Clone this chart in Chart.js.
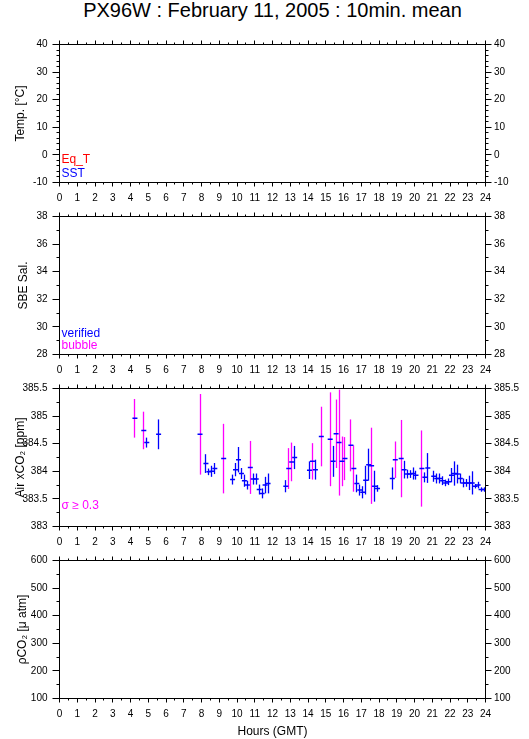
<!DOCTYPE html>
<html><head><meta charset="utf-8">
<script src="https://cdn.jsdelivr.net/npm/chart.js@4.4.1/dist/chart.umd.min.js"></script>
<style>
html,body{margin:0;padding:0;background:#fff;}
body{width:529px;height:739px;position:relative;overflow:hidden;font-family:"Liberation Sans",Arial,Helvetica,sans-serif;}
#title{position:absolute;left:59.5px;width:426px;top:-1px;text-align:center;font-size:20px;line-height:22px;color:#000;white-space:nowrap;}
canvas{position:absolute;left:0;}
</style></head><body>
<div id="title">PX96W : February 11, 2005 : 10min. mean</div>
<canvas id="c1" width="529" height="190" style="top:14px"></canvas>
<canvas id="c2" width="529" height="190" style="top:186px"></canvas>
<canvas id="c3" width="529" height="190" style="top:358px"></canvas>
<canvas id="c4" width="529" height="209" style="top:530px"></canvas>
<script>
// ---------- data ----------
const hourTicks = [0,1,2,3,4,5,6,7,8,9,10,11,12,13,14,15,16,17,18,19,20,21,22,23,24];
const tempTicks = [-10,0,10,20,30,40];
const salTicks = [28,30,32,34,36,38];
const xco2Ticks = [383,383.5,384,384.5,385,385.5];
const pco2Ticks = [100,200,300,400,500,600];

const eqTemp = [];
const sst = [];
const salVerified = [];
const salBubble = [];
const pco2 = [];

const airHours = [4.25,4.75,4.917,5.583,7.917,8.25,8.417,8.583,8.75,9.25,
  9.75,9.917,10.083,10.25,10.417,10.583,10.75,10.917,11.083,11.25,
  11.417,11.583,11.75,12.75,12.917,13.083,13.25,14.083,14.25,14.417,
  14.75,15.25,15.417,15.583,15.75,15.917,16.083,16.417,16.583,16.75,
  16.917,17.083,17.25,17.417,17.583,17.75,17.917,18.75,18.917,19.25,
  19.417,19.583,19.75,19.917,20.083,20.417,20.583,20.75,21.083,21.25,
  21.417,21.583,21.75,21.917,22.083,22.25,22.417,22.583,22.75,22.917,
  23.083,23.25,23.417,23.583,23.75,23.917];
const airXco2 = [384.96,384.74,384.52,384.67,384.67,384.14,383.99,384.00,384.05,384.23,
  383.85,384.03,384.21,383.96,383.83,383.75,384.07,383.86,383.86,383.67,
  383.60,383.75,383.78,383.73,384.05,384.17,384.25,384.02,384.18,384.03,
  384.63,384.58,384.18,384.68,384.52,384.18,384.23,384.47,384.05,383.78,
  383.66,383.62,383.84,384.12,384.10,383.73,383.69,383.87,384.21,384.23,
  384.03,383.95,383.95,383.96,383.93,384.05,383.89,384.06,383.91,383.87,
  383.87,383.83,383.79,383.81,383.93,383.96,383.95,383.87,383.79,383.79,
  383.79,383.79,383.73,383.75,383.67,383.67];
const airSigma = [0.35,0.34,0.09,0.27,0.73,0.17,0.06,0.10,0.10,0.63,
  0.09,0.12,0.23,0.10,0.11,0.08,0.48,0.10,0.10,0.09,
  0.09,0.15,0.18,0.11,0.37,0.35,0.21,0.16,0.33,0.18,
  0.54,0.85,0.28,0.62,0.96,0.45,0.39,0.47,0.42,0.16,
  0.10,0.11,0.26,0.29,0.69,0.28,0.06,0.20,0.33,0.70,
  0.16,0.08,0.07,0.11,0.08,0.69,0.09,0.27,0.10,0.09,
  0.09,0.08,0.06,0.06,0.13,0.22,0.17,0.09,0.08,0.07,
  0.13,0.21,0.04,0.06,0.04,0.04];
const sigmaLimit = 0.3;

// ---------- style ----------
const RED = '#ff0000', BLUE = '#0000ff', MAGENTA = '#ff00ff';
const FONT = "'Liberation Sans', Arial, Helvetica, sans-serif";
Chart.defaults.font.family = FONT;
Chart.defaults.color = '#000';

const PLOT_TOP = 30.5, PLOT_H = 138;

function deco(cfg) {
  return {
    id: 'deco',
    beforeDatasetsDraw(chart) {
      if (!cfg.errors) return;
      const {ctx, scales} = chart;
      const e = cfg.errors;
      ctx.save();
      ctx.lineWidth = 1.3;
      e.x.forEach((h, i) => {
        const px = Math.round(scales.x.getPixelForValue(h) - 0.5) + 0.5;
        const y1 = scales.y.getPixelForValue(e.y[i] - e.s[i]);
        const y2 = scales.y.getPixelForValue(e.y[i] + e.s[i]);
        ctx.strokeStyle = e.s[i] >= e.limit ? MAGENTA : BLUE;
        ctx.beginPath(); ctx.moveTo(px, y1); ctx.lineTo(px, y2); ctx.stroke();
      });
      ctx.restore();
    },
    afterDraw(chart) {
      const {ctx, chartArea: a, scales} = chart;
      ctx.save();
      ctx.strokeStyle = '#000'; ctx.lineWidth = 1;
      ctx.strokeRect(a.left, a.top, a.right - a.left, a.bottom - a.top);
      ctx.beginPath();
      const sx = scales.x;
      for (let k = 0; k <= 48; k++) {
        const h = k / 2;
        const px = Math.round(sx.getPixelForValue(h) - 0.5) + 0.5;
        const len = (k % 2 === 0) ? 4 : 2;
        ctx.moveTo(px, a.bottom); ctx.lineTo(px, a.bottom + len);
        ctx.moveTo(px, a.top); ctx.lineTo(px, a.top - len);
      }
      const sy = scales.y;
      const ticks = cfg.yTicks;
      const lo = ticks[0], hi = ticks[ticks.length - 1];
      const n = Math.round((hi - lo) / cfg.minor);
      for (let k = 0; k <= n; k++) {
        const v = lo + k * cfg.minor;
        const major = ticks.some(t => Math.abs(t - v) < 1e-6);
        const py = Math.round(sy.getPixelForValue(v) - 0.5) + 0.5;
        const ll = major ? 7 : 3, lr = major ? 6 : 3;
        ctx.moveTo(a.left, py); ctx.lineTo(a.left - ll, py);
        ctx.moveTo(a.right, py); ctx.lineTo(a.right + lr, py);
      }
      ctx.stroke();
      if (cfg.legend) {
        ctx.font = '12px ' + FONT;
        ctx.textAlign = 'left'; ctx.textBaseline = 'alphabetic';
        cfg.legend.forEach(l => {
          ctx.fillStyle = l.color;
          ctx.fillText(l.text, a.left + 2, a.bottom + l.dy);
        });
      }
      ctx.restore();
    }
  };
}

function makePanel(id, cfg) {
  const canvas = document.getElementById(id);
  const H = canvas.height;
  const yMin = cfg.yTicks[0], yMax = cfg.yTicks[cfg.yTicks.length - 1];
  const setTicks = arr => s => { s.ticks = arr.map(v => ({value: v})); };
  const noGrid = (len) => ({drawOnChartArea: false, drawTicks: true, tickLength: len, color: 'rgba(0,0,0,0)'});
  return new Chart(canvas, {
    type: 'scatter',
    data: {datasets: cfg.datasets},
    options: {
      responsive: false, animation: false, devicePixelRatio: 1,
      layout: {padding: 0},
      plugins: {legend: {display: false}, tooltip: {enabled: false}, title: {display: false}},
      scales: {
        x: {
          type: 'linear', position: 'bottom', min: 0, max: 24,
          afterBuildTicks: setTicks(hourTicks),
          ticks: {autoSkip: false, maxRotation: 0, minRotation: 0, padding: 6, color: '#000',
                  font: {size: 10, family: FONT}, callback: v => String(v)},
          grid: noGrid(4), border: {display: false},
          title: cfg.xTitle ? {display: true, text: cfg.xTitle, color: '#000',
                  font: {size: 12, family: FONT}, padding: {top: 0, bottom: 0.5}} : {display: false},
          afterFit: s => { s.height = H - PLOT_TOP - PLOT_H; }
        },
        x2: {
          type: 'linear', position: 'top', min: 0, max: 24,
          ticks: {display: false}, grid: {display: false}, border: {display: false},
          afterFit: s => { s.height = PLOT_TOP; }
        },
        y: {
          type: 'linear', position: 'left', min: yMin, max: yMax,
          afterBuildTicks: setTicks(cfg.yTicks),
          ticks: {padding: 5, color: '#000', font: {size: 10, family: FONT}, callback: v => String(v)},
          grid: noGrid(7), border: {display: false},
          title: {display: true, text: cfg.yTitle, color: '#000', font: {size: 12, family: FONT},
                  padding: {top: cfg.titlePad, bottom: 0}},
          afterFit: s => { s.width = 59.5; }
        },
        y2: {
          type: 'linear', position: 'right', min: yMin, max: yMax,
          afterBuildTicks: setTicks(cfg.yTicks),
          ticks: {padding: 2.5, color: '#000', font: {size: 10, family: FONT}, callback: v => String(v)},
          grid: noGrid(6), border: {display: false},
          afterFit: s => { s.width = 529 - 485.5; }
        }
      }
    },
    plugins: [deco(cfg)]
  });
}

const toXY = (xs, ys) => xs.map((x, i) => ({x: x, y: ys[i]}));

makePanel('c1', {
  yTicks: tempTicks, minor: 2, yTitle: 'Temp. [°C]', titlePad: 13,
  datasets: [
    {label: 'Eq_T', data: eqTemp, borderColor: RED, backgroundColor: RED},
    {label: 'SST', data: sst, borderColor: BLUE, backgroundColor: BLUE}
  ],
  legend: [{text: 'Eq_T', color: RED, dy: -20}, {text: 'SST', color: BLUE, dy: -6}]
});

makePanel('c2', {
  yTicks: salTicks, minor: 1, yTitle: 'SBE Sal.', titlePad: 16.5,
  datasets: [
    {label: 'verified', data: salVerified, borderColor: BLUE, backgroundColor: BLUE},
    {label: 'bubble', data: salBubble, borderColor: MAGENTA, backgroundColor: MAGENTA}
  ],
  legend: [{text: 'verified', color: BLUE, dy: -17.8}, {text: 'bubble', color: MAGENTA, dy: -5.2}]
});

makePanel('c3', {
  yTicks: xco2Ticks, minor: 0.25, yTitle: 'Air xCO₂ [ppm]', titlePad: 13,
  datasets: [
    {label: 'Air xCO2', data: toXY(airHours, airXco2), showLine: false,
     pointStyle: 'line', pointRadius: 2.5, pointBorderWidth: 1.5,
     pointBorderColor: BLUE, pointBackgroundColor: BLUE, borderColor: BLUE}
  ],
  errors: {x: airHours, y: airXco2, s: airSigma, limit: sigmaLimit},
  legend: [{text: 'σ ≥ 0.3', color: MAGENTA, dy: -18}]
});

makePanel('c4', {
  yTicks: pco2Ticks, minor: 50, yTitle: 'ρCO₂ [μ atm]', titlePad: 15,
  datasets: [
    {label: 'pCO2', data: pco2, borderColor: BLUE, backgroundColor: BLUE}
  ],
  xTitle: 'Hours (GMT)'
});
</script>
</body></html>
